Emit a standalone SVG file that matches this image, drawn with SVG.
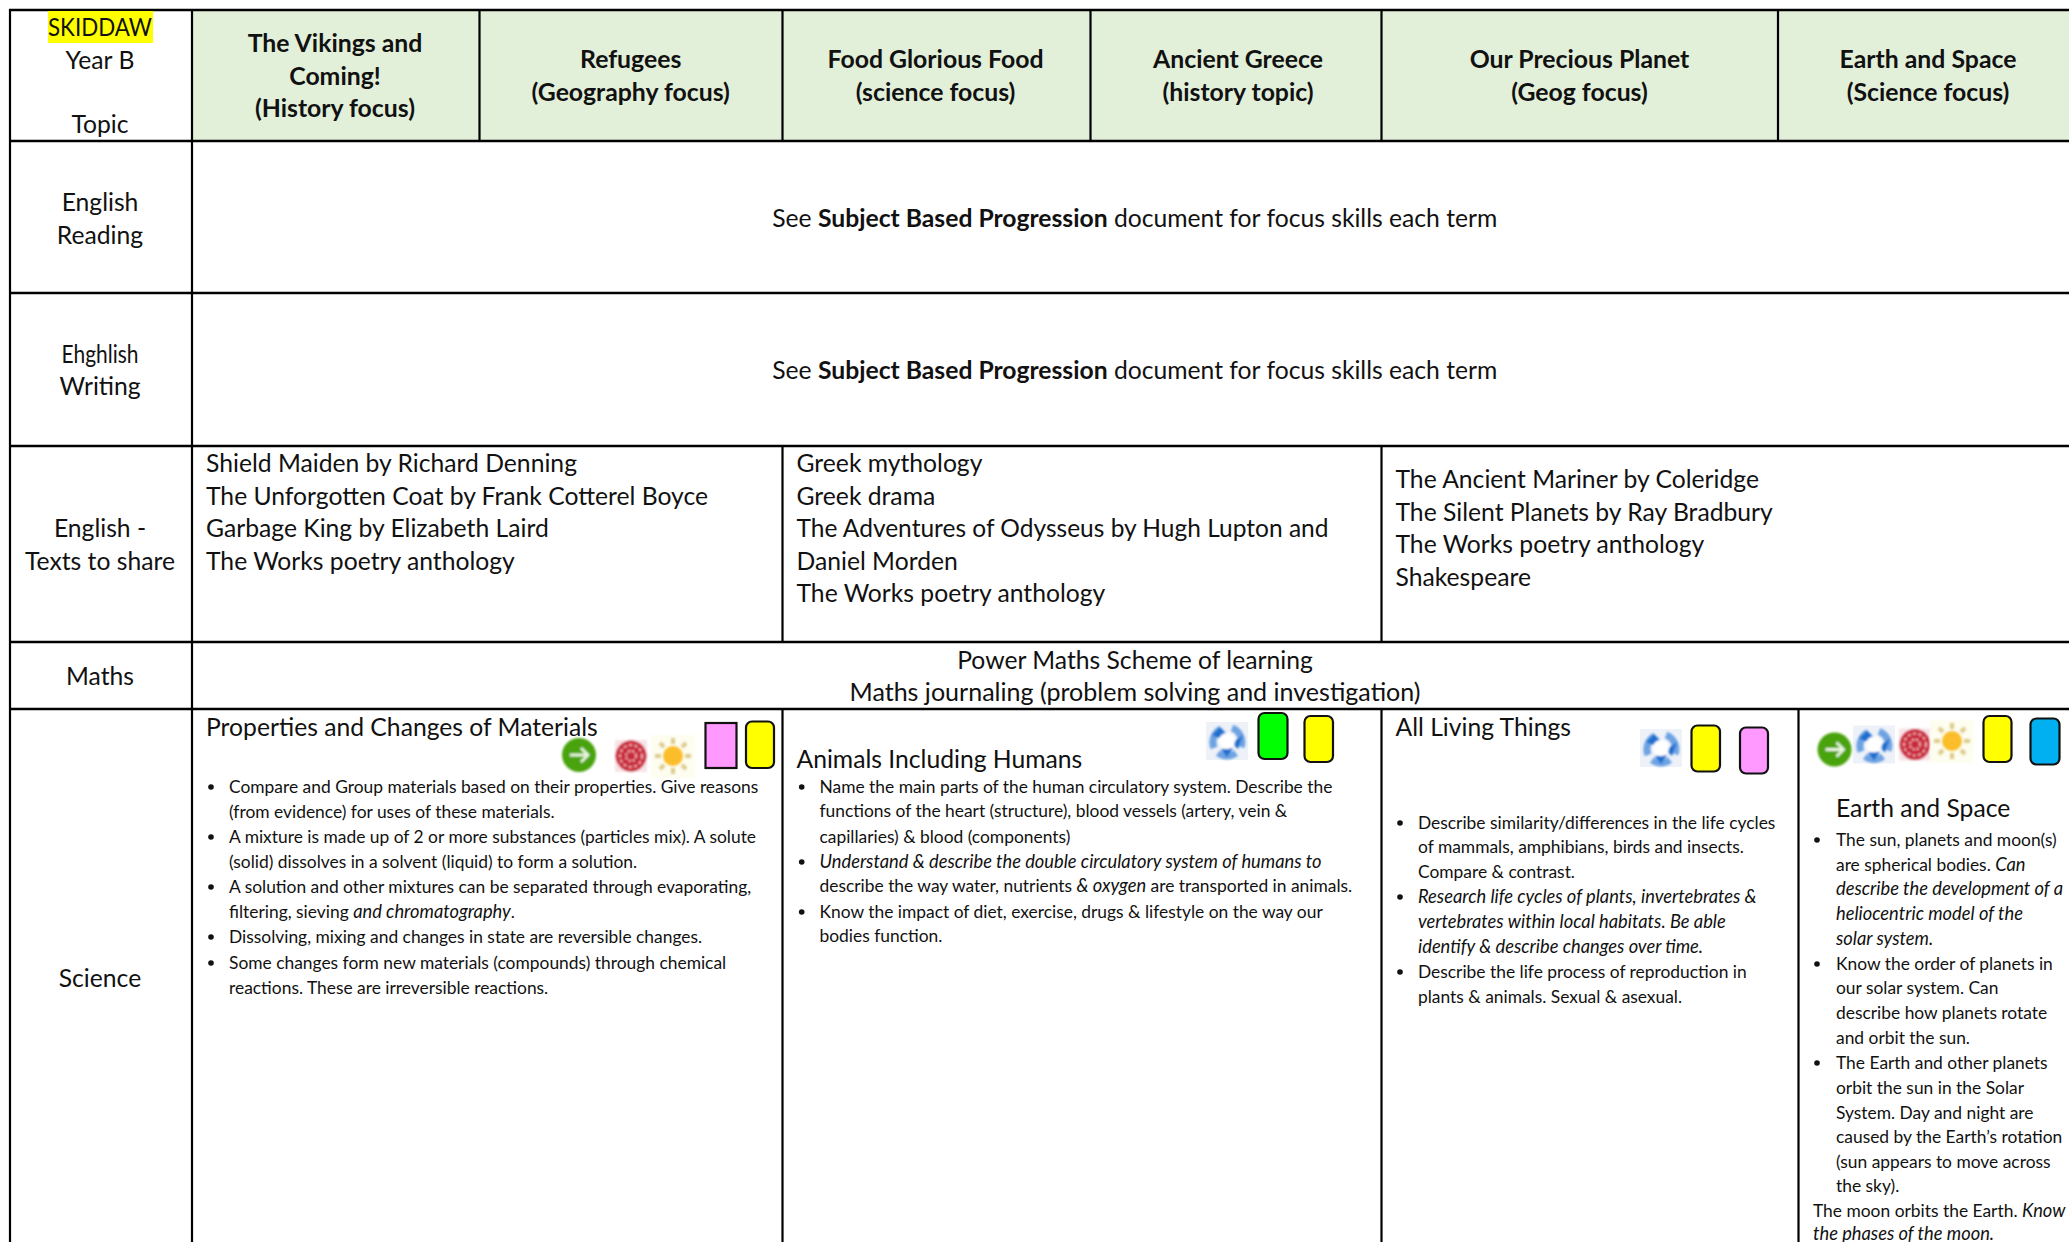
<svg xmlns="http://www.w3.org/2000/svg" xmlns:xlink="http://www.w3.org/1999/xlink" width="2069" height="1242" viewBox="0 0 2069 1242">
<style>
text{font-family:"Lato","Open Sans",sans-serif;fill:#111}
.t{font-size:24.7px}
.c{text-anchor:middle}
.b{font-weight:700}
.e{font-size:24.8px}
.s{font-size:17.4px}
.i{font-style:italic;font-size:18.3px}
.d{fill:#111}
.k{stroke:#000;stroke-width:2.4}
.r{stroke:#000;stroke-width:2.2}
.sw{stroke:#111;stroke-width:2.2}
</style>
<defs>
<filter id="soft" x="-20%" y="-20%" width="140%" height="140%"><feGaussianBlur stdDeviation="0.8"/></filter>
<filter id="softer" x="-20%" y="-20%" width="140%" height="140%"><feGaussianBlur stdDeviation="1.2"/></filter>
<g id="go" filter="url(#soft)"><circle r="17" fill="#48a30c"/><path d="M-9 0H9M2-7 9 0 2 7" fill="none" stroke="#eaf6df" stroke-width="2.8"/></g>
<g id="rose" filter="url(#soft)"><rect x="-16" y="-16" width="32" height="32" fill="#f8e3e8"/><circle r="15.500" fill="#c9283a"/><circle r="11" fill="none" stroke="#efb0b4" stroke-width="2" stroke-dasharray="3 2.500"/><circle r="5" fill="none" stroke="#f3c4c6" stroke-width="2" stroke-dasharray="2 2"/></g>
<g id="sun"><rect x="-22" y="-21" width="44" height="43" fill="#fdfdf0" filter="url(#soft)"/><g filter="url(#soft)"><path d="M0-18V-12M0 12V18M-18 0H-12M12 0H18M-13-13-9-9M9 9 13 13M-13 13-9 9M9-9 13-13" stroke="#ddca8c" stroke-width="4"/><circle r="10" fill="#fbbd2b"/></g></g>
<g id="recycle"><rect x="-21" y="-19" width="42" height="38" fill="#eef2f8"/><g filter="url(#softer)"><path d="M-13 7A15 15 0 0 1-6-12M5-13A15 15 0 0 1 14 6M9 12A15 15 0 0 1-9 12" fill="none" stroke="#6ea3e3" stroke-width="7"/><path d="M-15-6-7-14 0-7-8-3ZM16-6 11 8 5 2ZM-6 8 6 7 0 16Z" fill="#1f6fcf"/><circle r="8" fill="#fff"/></g></g>
</defs>

<g id="header-fill"><rect x="192" y="10" width="1877" height="131" fill="#e2efd9"/></g>

<g id="grid">
<path class="k" fill="none" d="M9 10H2069M9 141H2069M9 293H2069M9 446H2069M9 642H2069M9 709H2069"/>
<path class="r" fill="none" d="M10 9V1242M192 9V1242M479.500 9V141M782.500 9V141M782.500 446V642M782.500 709V1242M1090.500 9V141M1381.500 9V141M1381.500 446V642M1381.500 709V1242M1778 9V141M1798.500 709V1242"/>
</g>

<g id="row-topic">
<rect x="48" y="11" width="105" height="32" fill="#ffff00"/>
<text class="t c" x="100" y="36" textLength="104" lengthAdjust="spacingAndGlyphs">SKIDDAW</text>
<text class="t c" x="100" y="68.500">Year B</text>
<text class="t c" x="100" y="133">Topic</text>
</g>
<g id="topic-vikings"><text class="e c b" x="335" y="52">The Vikings and</text><text class="e c b" x="335" y="84.500">Coming!</text><text class="e c b" x="335" y="117">(History focus)</text></g>
<g id="topic-refugees"><text class="e c b" x="630.700" y="68">Refugees</text><text class="e c b" x="630.700" y="100.500">(Geography focus)</text></g>
<g id="topic-food"><text class="e c b" x="935.500" y="68">Food Glorious Food</text><text class="e c b" x="935.500" y="100.500">(science focus)</text></g>
<g id="topic-greece"><text class="e c b" x="1238" y="68">Ancient Greece</text><text class="e c b" x="1238" y="100.500">(history topic)</text></g>
<g id="topic-planet"><text class="e c b" x="1579.500" y="68">Our Precious Planet</text><text class="e c b" x="1579.500" y="100.500">(Geog focus)</text></g>
<g id="topic-earth"><text class="e c b" x="1928" y="68">Earth and Space</text><text class="e c b" x="1928" y="100.500">(Science focus)</text></g>

<g id="row-reading">
<text class="t c" x="100" y="210.500">English</text><text class="t c" x="100" y="243.500">Reading</text>
<text class="t c" x="1134.800" y="226.500">See <tspan class="b">Subject Based Progression</tspan> document for focus skills each term</text>
</g>
<g id="row-writing">
<text class="t c" x="100" y="362.500" textLength="77" lengthAdjust="spacingAndGlyphs">Ehghlish</text><text class="t c" x="100" y="395">Writing</text>
<text class="t c" x="1134.800" y="379">See <tspan class="b">Subject Based Progression</tspan> document for focus skills each term</text>
</g>
<g id="row-texts">
<text class="t c" x="100" y="537">English -</text><text class="t c" x="100" y="569.500">Texts to share</text>
<text class="t" x="206" y="472">Shield Maiden by Richard Denning</text>
<text class="t" x="206" y="504.500">The Unforgotten Coat by Frank Cotterel Boyce</text>
<text class="t" x="206" y="537">Garbage King by Elizabeth Laird</text>
<text class="t" x="206" y="569.500">The Works poetry anthology</text>
<text class="t" x="796.500" y="472">Greek mythology</text>
<text class="t" x="796.500" y="504.500">Greek drama</text>
<text class="t" x="796.500" y="537" textLength="532" lengthAdjust="spacingAndGlyphs">The Adventures of Odysseus by Hugh Lupton and</text>
<text class="t" x="796.500" y="569.500">Daniel Morden</text>
<text class="t" x="796.500" y="602">The Works poetry anthology</text>
<text class="t" x="1395.500" y="488">The Ancient Mariner by Coleridge</text>
<text class="t" x="1395.500" y="520.500">The Silent Planets by Ray Bradbury</text>
<text class="t" x="1395.500" y="553">The Works poetry anthology</text>
<text class="t" x="1395.500" y="585.500">Shakespeare</text>
</g>
<g id="row-maths">
<text class="t c" x="100" y="684.500">Maths</text>
<text class="t c" x="1135" y="668.500">Power Maths Scheme of learning</text>
<text class="t c" x="1135" y="701" textLength="571" lengthAdjust="spacingAndGlyphs">Maths journaling (problem solving and investigation)</text>
</g>

<g id="row-science-label"><text class="t c" x="100" y="986.500">Science</text></g>

<g id="science-materials">
<text class="t" x="206" y="735.500">Properties and Changes of Materials</text>
<use xlink:href="#go" href="#go" x="579" y="755"/>
<use xlink:href="#rose" href="#rose" x="631" y="756"/>
<use xlink:href="#sun" href="#sun" x="673" y="756"/>
<rect class="sw" x="705.500" y="723" width="31" height="45" fill="#ff99ff"/>
<rect class="sw" x="746" y="721.500" width="28" height="46.500" rx="6" fill="#ffff00"/>
<circle class="d" cx="211" cy="787" r="2.800"/>
<text class="s" x="229" y="793">Compare and Group materials based on their properties. Give reasons</text>
<text class="s" x="229" y="818">(from evidence) for uses of these materials.</text>
<circle class="d" cx="211" cy="837" r="2.800"/>
<text class="s" x="229" y="843">A mixture is made up of 2 or more substances (particles mix). A solute</text>
<text class="s" x="229" y="868">(solid) dissolves in a solvent (liquid) to form a solution.</text>
<circle class="d" cx="211" cy="887" r="2.800"/>
<text class="s" x="229" y="893">A solution and other mixtures can be separated through evaporating,</text>
<text class="s" x="229" y="918">filtering, sieving <tspan class="i">and chromatography</tspan>.</text>
<circle class="d" cx="211" cy="937" r="2.800"/>
<text class="s" x="229" y="943">Dissolving, mixing and changes in state are reversible changes.</text>
<circle class="d" cx="211" cy="963" r="2.800"/>
<text class="s" x="229" y="969">Some changes form new materials (compounds) through chemical</text>
<text class="s" x="229" y="994">reactions. These are irreversible reactions.</text>
</g>

<g id="science-animals">
<text class="t" x="796.500" y="767.500">Animals Including Humans</text>
<use xlink:href="#recycle" href="#recycle" x="1227" y="741"/>
<rect class="sw" x="1258.500" y="713" width="29" height="46" rx="6" fill="#00ff00"/>
<rect class="sw" x="1304.500" y="716" width="28.500" height="46" rx="6" fill="#ffff00"/>
<circle class="d" cx="801.700" cy="787" r="2.800"/>
<text class="s" x="819.500" y="793">Name the main parts of the human circulatory system. Describe the</text>
<text class="s" x="819.500" y="817">functions of the heart (structure), blood vessels (artery, vein &amp;</text>
<text class="s" x="819.500" y="843">capillaries) &amp; blood (components)</text>
<circle class="d" cx="801.700" cy="862" r="2.800"/>
<text class="s i" x="819.500" y="868">Understand &amp; describe the double circulatory system of humans to</text>
<text class="s" x="819.500" y="892">describe the way water, nutrients <tspan class="i">&amp; oxygen</tspan> are transported in animals.</text>
<circle class="d" cx="801.700" cy="912" r="2.800"/>
<text class="s" x="819.500" y="918">Know the impact of diet, exercise, drugs &amp; lifestyle on the way our</text>
<text class="s" x="819.500" y="942">bodies function.</text>
</g>

<g id="science-living">
<text class="t" x="1395.500" y="735.500">All Living Things</text>
<use xlink:href="#recycle" href="#recycle" x="1661" y="748"/>
<rect class="sw" x="1691.500" y="725.500" width="28.500" height="46" rx="6" fill="#ffff00"/>
<rect class="sw" x="1740" y="727.500" width="28" height="46" rx="6" fill="#ff99ff"/>
<circle class="d" cx="1400" cy="823" r="2.800"/>
<text class="s" x="1418" y="829">Describe similarity/differences in the life cycles</text>
<text class="s" x="1418" y="853">of mammals, amphibians, birds and insects.</text>
<text class="s" x="1418" y="878">Compare &amp; contrast.</text>
<circle class="d" cx="1400" cy="897" r="2.800"/>
<text class="s i" x="1418" y="903">Research life cycles of plants, invertebrates &amp;</text>
<text class="s i" x="1418" y="928">vertebrates within local habitats. Be able</text>
<text class="s i" x="1418" y="953">identify &amp; describe changes over time.</text>
<circle class="d" cx="1400" cy="972" r="2.800"/>
<text class="s" x="1418" y="978">Describe the life process of reproduction in</text>
<text class="s" x="1418" y="1003">plants &amp; animals. Sexual &amp; asexual.</text>
</g>

<g id="science-earth">
<use xlink:href="#go" href="#go" x="1834.500" y="749.500"/>
<use xlink:href="#recycle" href="#recycle" x="1874" y="744.500"/>
<use xlink:href="#rose" href="#rose" x="1915" y="744.500"/>
<use xlink:href="#sun" href="#sun" x="1952" y="741"/>
<rect class="sw" x="1983.500" y="716" width="28" height="46" rx="6" fill="#ffff00"/>
<rect class="sw" x="2030.500" y="718.500" width="29" height="46" rx="6" fill="#00b0f0"/>
<text class="t" x="1836" y="817">Earth and Space</text>
<circle class="d" cx="1817" cy="840" r="2.800"/>
<text class="s" x="1836" y="846">The sun, planets and moon(s)</text>
<text class="s" x="1836" y="870.500">are spherical bodies. <tspan class="i">Can</tspan></text>
<text class="s i" x="1836" y="895">describe the development of a</text>
<text class="s i" x="1836" y="919.500">heliocentric model of the</text>
<text class="s i" x="1836" y="944.500">solar system.</text>
<circle class="d" cx="1817" cy="964" r="2.800"/>
<text class="s" x="1836" y="970">Know the order of planets in</text>
<text class="s" x="1836" y="994">our solar system. Can</text>
<text class="s" x="1836" y="1019">describe how planets rotate</text>
<text class="s" x="1836" y="1043.500">and orbit the sun.</text>
<circle class="d" cx="1817" cy="1063" r="2.800"/>
<text class="s" x="1836" y="1069">The Earth and other planets</text>
<text class="s" x="1836" y="1093.500">orbit the sun in the Solar</text>
<text class="s" x="1836" y="1118.500">System. Day and night are</text>
<text class="s" x="1836" y="1143">caused by the Earth’s rotation</text>
<text class="s" x="1836" y="1167.500">(sun appears to move across</text>
<text class="s" x="1836" y="1192">the sky).</text>
<text class="s" x="1813" y="1216.500">The moon orbits the Earth. <tspan class="i">Know</tspan></text>
<text class="s i" x="1813" y="1240">the phases of the moon.</text>
</g>
</svg>
